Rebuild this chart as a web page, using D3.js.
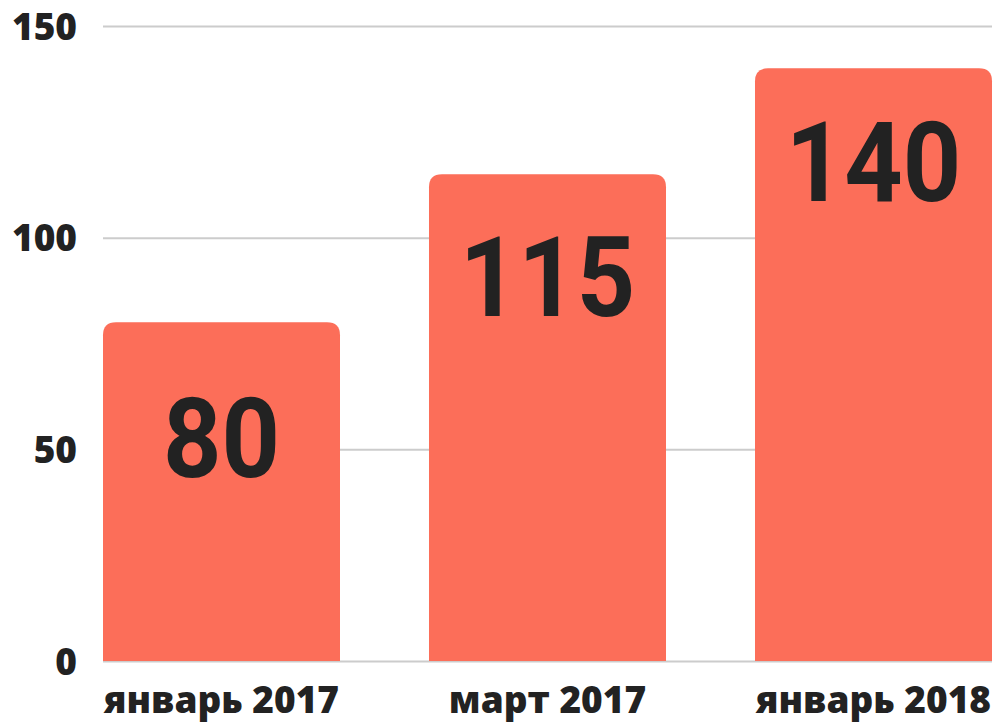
<!DOCTYPE html>
<html>
<head>
<meta charset="utf-8">
<script src="https://cdn.jsdelivr.net/npm/d3@7"></script>
<style>
  html, body { margin: 0; padding: 0; background: #fff; }
</style>
</head>
<body>
<div id="chart"></div>
<script>
// data
const categories = ["январь 2017", "март 2017", "январь 2018"];
const values = [80, 115, 140];
const yTicks = [0, 50, 100, 150];

const width = 998, height = 724;
const margin = {top: 26, right: 6, bottom: 63, left: 103};

const svg = d3.select("#chart").append("svg")
    .attr("width", width)
    .attr("height", height);

const x = d3.scaleBand()
    .domain(categories)
    .range([margin.left, width - margin.right])
    .paddingInner(0.273)
    .paddingOuter(0);

const y = d3.scaleLinear()
    .domain([0, 150])
    .range([height - margin.bottom, margin.top]);

// gridlines + y labels
const yAxis = d3.axisLeft(y)
    .tickValues(yTicks)
    .tickSize(-(width - margin.right - margin.left))
    .tickPadding(26)
    .tickFormat(d3.format("d"));

const gy = svg.append("g")
    .attr("transform", `translate(${margin.left},0)`)
    .call(yAxis);
gy.select(".domain").remove();
gy.selectAll(".tick line")
    .attr("stroke", "#cccccc")
    .attr("stroke-width", 2);
gy.selectAll(".tick text")
    .attr("fill", "#222")
    .attr("font-family", "'Open Sans', sans-serif")
    .attr("font-weight", 800)
    .attr("font-size", "37px")
    .attr("dy", "0.36em");

// bars with rounded top corners
const r = 13;
function barPath(v, c) {
    const x0 = x(c), x1 = x(c) + x.bandwidth();
    const y0 = y(v), y1 = y(0);
    return `M${x0},${y1}V${y0 + r}Q${x0},${y0} ${x0 + r},${y0}H${x1 - r}Q${x1},${y0} ${x1},${y0 + r}V${y1}Z`;
}

svg.append("g").selectAll("path")
    .data(values)
    .join("path")
    .attr("d", (d, i) => barPath(d, categories[i]))
    .attr("fill", "#fc6e59");

// value labels inside bars
svg.append("g").selectAll("text")
    .data(values)
    .join("text")
    .attr("x", (d, i) => x(categories[i]) + x.bandwidth() / 2)
    .attr("y", d => y(d) + 155 - (d - 80) * 0.38)
    .attr("text-anchor", "middle")
    .attr("font-family", "Roboto, sans-serif")
    .attr("font-weight", 700)
    .attr("font-size", "112px")
    .attr("fill", "#222")
    .attr("textLength", d => String(d).length * 58.5)
    .attr("lengthAdjust", "spacingAndGlyphs")
    .text(d => d);

// x labels
const xAxis = d3.axisBottom(x).tickSize(0).tickPadding(0);
const gx = svg.append("g")
    .attr("transform", `translate(0,${height - margin.bottom})`)
    .call(xAxis);
gx.select(".domain").remove();
gx.selectAll(".tick text")
    .attr("fill", "#222")
    .attr("font-family", "'Open Sans', sans-serif")
    .attr("font-weight", 800)
    .attr("font-size", "37px")
    .attr("dy", null)
    .attr("y", 52);
</script>
</body>
</html>
